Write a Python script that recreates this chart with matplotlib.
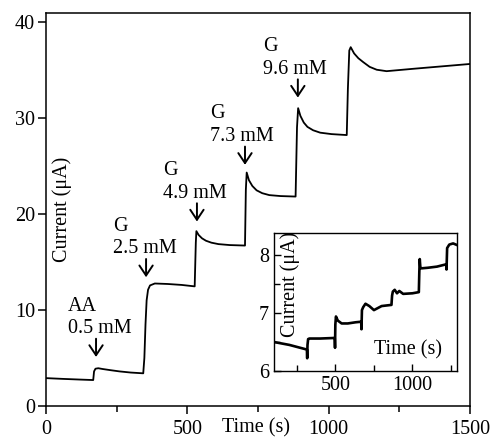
import matplotlib
matplotlib.use("Agg")
import matplotlib.pyplot as plt
from matplotlib.ticker import MultipleLocator

plt.rcParams['font.family'] = ['Liberation Serif', 'DejaVu Serif']
plt.rcParams['mathtext.fontset'] = 'stix'

# ---- main trace: time (s) and current (uA) ----
main_t = [0, 60, 120, 167, 170, 175, 185, 200, 230, 260, 300, 344,
          348, 352, 356, 361, 368, 385, 430, 480, 526,
          530, 532, 540, 552, 566, 585, 610, 650, 704,
          707, 710, 718, 730, 745, 765, 790, 830, 883,
          888, 892, 900, 912, 925, 945, 970, 1010, 1064,
          1068, 1073, 1078, 1090, 1105, 1122, 1145, 1170, 1205, 1300, 1400, 1500]
main_i = [2.9, 2.82, 2.75, 2.7, 3.6, 3.88, 3.93, 3.85, 3.72, 3.6, 3.48, 3.4,
          5.0, 8.5, 11.0, 12.1, 12.55, 12.75, 12.7, 12.6, 12.45,
          17.0, 18.2, 17.8, 17.45, 17.2, 17.0, 16.85, 16.75, 16.7,
          22.5, 24.3, 23.5, 22.9, 22.45, 22.15, 21.95, 21.85, 21.8,
          29.0, 31.0, 30.2, 29.5, 29.05, 28.7, 28.45, 28.3, 28.2,
          33.0, 37.0, 37.35, 36.7, 36.2, 35.8, 35.3, 35.0, 34.85, 35.1, 35.35, 35.6]

# ---- annotations ----
ann_names = ['AA', 'G', 'G', 'G', 'G']
ann_conc = ['0.5 mM', '2.5 mM', '4.9 mM', '7.3 mM', '9.6 mM']
ann_t = [177, 354, 534, 704, 891]
ann_tip = [5.1, 13.4, 19.2, 25.1, 32.1]
ann_text_t = [78, 237, 414, 580, 768]

# ---- inset trace ----
ins_t = [100, 200, 314, 316, 318, 322, 330, 400, 495, 497, 499, 503, 515, 540, 580, 630, 667,
         669, 672, 680, 695, 720, 750, 800, 864, 868, 873, 885, 900, 915, 940, 1000, 1042,
         1045, 1048, 1052, 1058, 1100, 1160, 1220, 1222, 1226, 1240, 1265, 1292]
ins_i = [6.50, 6.45, 6.37, 6.22, 6.45, 6.55, 6.56, 6.56, 6.57, 6.40, 6.80, 6.94, 6.87, 6.82, 6.82, 6.84, 6.85,
         6.72, 7.05, 7.10, 7.16, 7.12, 7.05, 7.12, 7.14, 7.30, 7.37, 7.40, 7.34, 7.38, 7.33, 7.34, 7.36,
         7.70, 7.93, 7.78, 7.77, 7.78, 7.80, 7.84, 7.75, 8.12, 8.18, 8.20, 8.17]

fs = 14.5
fig = plt.figure(figsize=(4.91, 4.41), dpi=100)
ax = fig.add_axes([0.0937, 0.0794, 0.8635, 0.891])
ax.plot(main_t, main_i, color='black', lw=1.3)
ax.set_xlim(0, 1500)
ax.set_ylim(0, 40.9)
ax.xaxis.set_major_locator(MultipleLocator(500))
ax.xaxis.set_minor_locator(MultipleLocator(250))
ax.yaxis.set_major_locator(MultipleLocator(10))
ax.tick_params(which='both', direction='out', labelsize=fs, width=1.1)
ax.tick_params(which='major', length=6)
ax.tick_params(which='minor', length=4)
ax.tick_params(axis='x', pad=4)
ax.tick_params(axis='y', pad=2)
for s in ax.spines.values():
    s.set_linewidth(1.1)
ax.text(0.495, -0.056, 'Time (s)', transform=ax.transAxes, ha='center', va='center', fontsize=fs)
ax.text(0.037, 0.50, 'Current (\u03bcA)', transform=ax.transAxes, rotation=90,
        ha='center', va='center', fontsize=fs)

for name, conc, t, tip, tt in zip(ann_names, ann_conc, ann_t, ann_tip, ann_text_t):
    ax.annotate('', xy=(t, tip), xytext=(t, tip + 1.9),
                arrowprops=dict(arrowstyle='->,head_length=0.45,head_width=0.3',
                                lw=1.4, color='black', mutation_scale=16,
                                shrinkA=0, shrinkB=0))
    ax.text(tt, tip + 5.3, name, ha='left', va='center', fontsize=fs)
    ax.text(tt, tip + 2.95, conc, ha='left', va='center', fontsize=fs)

# inset
axi = fig.add_axes([0.558, 0.1587, 0.3727, 0.313])
axi.plot(ins_t, ins_i, color='black', lw=1.9)
axi.set_xlim(100, 1290)
axi.set_ylim(6, 8.38)
axi.xaxis.set_major_locator(MultipleLocator(500))
axi.xaxis.set_minor_locator(MultipleLocator(250))
axi.yaxis.set_major_locator(MultipleLocator(1))
axi.yaxis.set_minor_locator(MultipleLocator(0.5))
axi.tick_params(which='both', direction='in', labelsize=fs, width=1.0)
axi.tick_params(which='major', length=5)
axi.tick_params(which='minor', length=4)
for s in axi.spines.values():
    s.set_linewidth(1.0)
axi.text(0.088, 0.63, 'Current (\u03bcA)', transform=axi.transAxes, rotation=90,
         ha='center', va='center', fontsize=fs)
axi.text(0.73, 0.15, 'Time (s)', transform=axi.transAxes, ha='center', va='center', fontsize=fs)

fig.savefig('out.png', dpi=100)
